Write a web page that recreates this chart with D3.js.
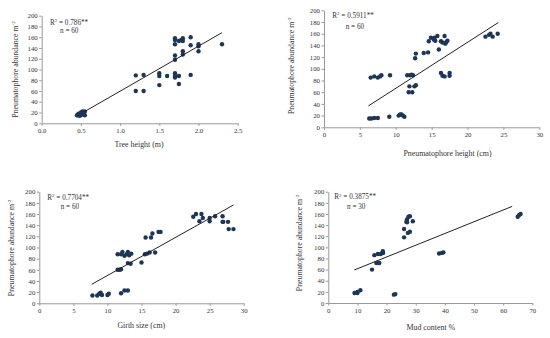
<!DOCTYPE html>
<html>
  <head>
    <meta charset="utf-8">
    <title>pneumatophore scatter</title>
    <style>
      body { margin: 0; background: #fff; }
      text { font-family: "Liberation Serif", "Times New Roman", serif; fill: #333; }
    </style>
  </head>
  <body>
    <svg width="550" height="338"></svg>
    <script src="https://cdn.jsdelivr.net/npm/d3@7/dist/d3.min.js"></script>
    <script>
      // tree height (m) vs abundance
      var treeX = [0.45,0.47,0.5,0.52,0.55,0.5,0.55,0.48,0.53,1.2,1.2,1.3,1.3,1.5,1.5,1.5,1.6,1.7,1.7,1.7,1.75,1.75,1.7,1.7,1.7,1.7,1.7,1.75,1.78,1.8,1.8,1.8,1.8,1.9,1.9,1.9,2.0,2.0,2.0,2.3];
      var treeY = [15,18,20,22,22,15,15,14,18,89,60,90,60,93,88,71,88,93,85,88,88,73,118,126,147,155,158,153,155,158,153,134,128,160,145,90,147,143,134,147];
      // pneumatophore height (cm)
      var pnX = [6.3,6.6,7,7.5,6.5,7,7.5,7.8,8,9.2,9.1,10.4,10.6,10.8,11,11.2,11.6,11.8,12,12.2,12.4,12.3,11.9,12.6,12.8,12.7,12.8,13.9,14.5,14.6,14.9,15.3,15.5,15.4,15.8,16,16.3,16.5,16.8,16.9,17.2,17,16.3,16.5,16.8,17.5,17.5,22.5,23,23.5,24.2,23.2];
      var pnY = [15,15,16,16,85,87,85,87,89,89,18,20,22,22,20,18,89,60,89,90,89,60,70,70,72,118,126,127,128,147,153,150,148,153,156,133,147,145,156,143,148,145,93,88,87,93,88,155,158,155,160,160];
      // girth size (cm)
      var girthX = [7.8,8.5,8.8,9,9.2,10,10.2,12,12.5,13,11.5,11.8,12,11.5,12,12.2,12.5,12.8,13,13.2,13.5,13,13.4,15,15.5,15.8,16.2,17,15.6,16.4,16.6,17.5,17.8,22.6,23,23.5,23.8,24,25,25,25.8,26.9,26.9,27,27.7,27.8,28.5];
      var girthY = [14,14,17,19,15,15,17,18,23,23,60,60,61,88,88,92,85,88,92,86,89,72,71,73,88,89,91,91,118,118,125,128,128,155,160,147,160,153,147,153,156,156,146,146,146,133,133];
      // mud content %
      var mudX = [9,10,11,10,15,15.8,16.5,17,17.5,18,18.8,18.7,22.5,23,26,26,26.8,27,27.3,27.5,28,28,29,27,38,39,39.5,65,65.5,66];
      var mudY = [18,20,23,18,60,86,72,88,72,88,90,93,15,16,133,118,146,150,126,155,156,128,147,145,89,90,91,155,158,160];

      var yTicks = [0,20,40,60,80,100,120,140,160,180,200];
      var xTicks1 = [0,0.5,1,1.5,2,2.5];
      var xTicks2 = [0,5,10,15,20,25,30];
      var xTicks4 = [0,10,20,30,40,50,60,70];

      var panels = [
        {xs:treeX, ys:treeY, xt:xTicks1, xmax:2.5, title:"Tree height (m)",
         r2:"0.786**", n:"n = 60", fit:[83.7,-24], fx:[0.55,2.3],
         L:41.7, R:237.7, T:15.7, B:123.3, r2x:50, r2y:24.5, nx:60, ny:33, tx:139, ty:146.5, lx:15, ly:69.5},
        {xs:pnX, ys:pnY, xt:xTicks2, xmax:30, title:"Pneumatophore height (cm)",
         r2:"0.5911**", n:"n = 60", fit:[7.87,-12.1], fx:[6.18,24.3],
         L:324, R:539.3, T:10.3, B:127.3, r2x:332.3, r2y:17.8, nx:345.7, ny:28.7, tx:447.5, ty:155.8, lx:291, ly:65.8},
        {xs:girthX, ys:girthY, xt:xTicks2, xmax:30, title:"Girth size (cm)",
         r2:"0.7704**", n:"n = 60", fit:[6.83,-18.5], fx:[7.68,28.5],
         L:39.3, R:243.7, T:191.7, B:303.3, r2x:47.3, r2y:199.5, nx:60.7, ny:209, tx:141.3, ty:327.5, lx:11, ly:248},
        {xs:mudX, ys:mudY, xt:xTicks4, xmax:70, title:"Mud content %",
         r2:"0.3875**", n:"n = 30", fit:[2.11,40.5], fx:[8.92,63.1],
         L:328.3, R:532.3, T:191.7, B:303, r2x:334.3, r2y:199, nx:347, ny:208.5, tx:430.8, ty:329.5, lx:299, ly:243}
      ];

      var svg = d3.select("svg");

      panels.forEach(function(p){
        var x = d3.scaleLinear().domain([0,p.xmax]).range([p.L,p.R]);
        var y = d3.scaleLinear().domain([0,200]).range([p.B,p.T]);
        var g = svg.append("g");

        var ya = g.append("g").attr("transform","translate("+p.L+",0)")
          .call(d3.axisLeft(y).tickValues(yTicks).tickSize(2.5).tickSizeOuter(0));
        var xa = g.append("g").attr("transform","translate(0,"+p.B+")")
          .call(d3.axisBottom(x).tickValues(p.xt).tickSize(2.5).tickSizeOuter(0));
        [ya,xa].forEach(function(a){
          a.select(".domain").attr("stroke","#999");
          a.selectAll(".tick line").attr("stroke","#999");
          a.selectAll(".tick text").attr("fill","#333").style("font-family","Liberation Serif").style("font-size","6.8px");
        });
        xa.selectAll(".tick text").attr("y",7.8).attr("dy","0.35em");
        ya.selectAll(".tick text").attr("x",-4);

        // points
        g.selectAll("circle").data(p.xs).enter().append("circle")
          .attr("cx",function(d){return x(d);})
          .attr("cy",function(d,i){return y(p.ys[i]);})
          .attr("r",2.2)
          .attr("fill","#1d3557");

        // trend line
        g.append("line")
          .attr("x1",x(p.fx[0])).attr("y1",y(p.fit[0]*p.fx[0]+p.fit[1]))
          .attr("x2",x(p.fx[1])).attr("y2",y(p.fit[0]*p.fx[1]+p.fit[1]))
          .attr("stroke","#222").attr("stroke-width",1);

        // R2 text
        var t = g.append("text").attr("x",p.r2x).attr("y",p.r2y).style("font-size","7.2px");
        t.append("tspan").text("R");
        t.append("tspan").attr("dy","-2.5").style("font-size","4.8px").text("2");
        t.append("tspan").attr("dy","2.5").text(" = "+p.r2);
        g.append("text").attr("x",p.nx).attr("y",p.ny).style("font-size","7.2px").text(p.n);

        // axis titles
        g.append("text").attr("x",p.tx).attr("y",p.ty).attr("text-anchor","middle")
          .style("font-size","7.9px").text(p.title);
        var yl = g.append("text").attr("transform","translate("+p.lx+","+p.ly+") rotate(-90)")
          .attr("text-anchor","middle").attr("dy","0.35em").style("font-size","7.8px");
        yl.append("tspan").text("Pneumatophore abundance m");
        yl.append("tspan").attr("dy","-2.5").style("font-size","5px").text("-2");
      });
    </script>
  </body>
</html>
